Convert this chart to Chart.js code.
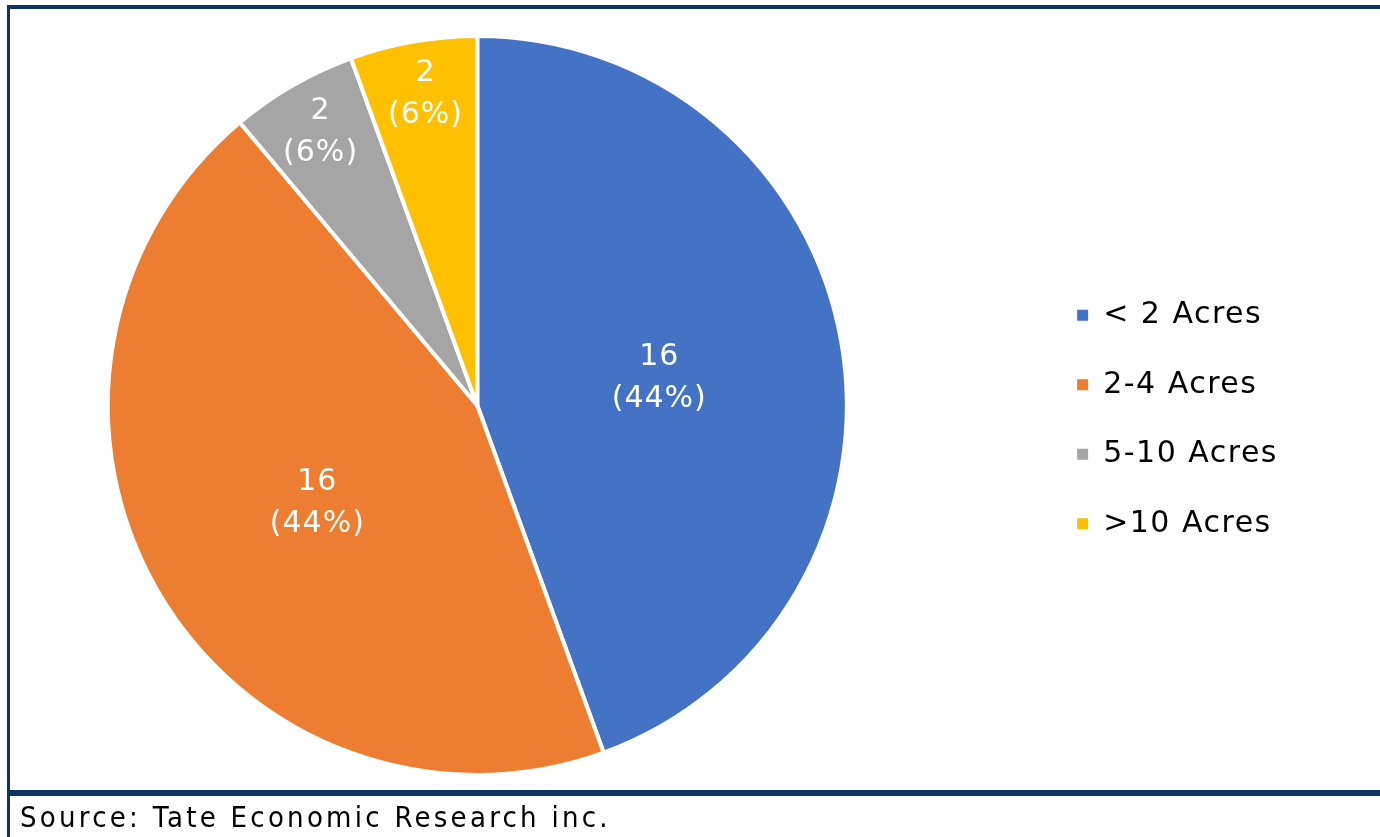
<!DOCTYPE html>
<html>
<head>
<meta charset="utf-8">
<script src="https://cdn.jsdelivr.net/npm/chart.js@4.4.1/dist/chart.umd.min.js"></script>
<style>
  html, body { margin: 0; padding: 0; background: #fff; overflow: hidden; }
  body { width: 1380px; height: 837px; position: relative; }
  #wrap { position: absolute; left: -83px; top: 0; width: 1472px; height: 837px; }
  .frame { position: absolute; background: #0b3462; z-index: 2; }
  #source {
    position: absolute; left: 20px; top: 797px; line-height: 40px; letter-spacing: 3.25px;
    font-family: "DejaVu Sans Condensed", "DejaVu Sans", sans-serif; font-size: 29px; color: #000;
  }
</style>
</head>
<body>
<div id="wrap"><canvas id="myChart" width="1472" height="837"></canvas></div>
<div class="frame" style="left:7px; top:5px; width:1373px; height:4px;"></div>
<div class="frame" style="left:7px; top:5px; width:3px; height:832px;"></div>
<div class="frame" style="left:7px; top:790px; width:1373px; height:6px;"></div>
<div id="source">Source: Tate Economic Research inc.</div>
<script>
// chart data
const categories = ["< 2 Acres", "2-4 Acres", "5-10 Acres", ">10 Acres"];
const counts = [16, 16, 2, 2];
const sliceColors = ["#4472C4", "#ED7D31", "#A5A5A5", "#FFC000"];

const total = counts.reduce((a, b) => a + b, 0);

// a bit of tracking like the original's text
const spacing = {
  id: "spacing",
  beforeLayout(chart) { chart.ctx.letterSpacing = "1.5px"; },
  beforeDraw(chart) { chart.ctx.letterSpacing = "1.5px"; }
};

// value + percent labels on each slice
const sliceLabels = {
  id: "sliceLabels",
  afterDatasetsDraw(chart) {
    const ctx = chart.ctx;
    const meta = chart.getDatasetMeta(0);
    ctx.save();
    ctx.letterSpacing = "1px";
    ctx.fillStyle = "#fff";
    ctx.font = '30px "DejaVu Sans", sans-serif';
    ctx.textAlign = "center";
    ctx.textBaseline = "middle";
    meta.data.forEach(function(arc, i) {
      const p = arc.getProps(["x", "y", "startAngle", "endAngle", "outerRadius"], true);
      const mid = (p.startAngle + p.endAngle) / 2;
      const share = counts[i] / total;
      const r = p.outerRadius * (share < 0.1 ? 0.87 : 0.5);
      const cx = p.x + Math.cos(mid) * r + (share < 0.1 ? 4 : 0);
      const cy = p.y + Math.sin(mid) * r;
      ctx.fillText(String(counts[i]), cx, cy - 16);
      ctx.fillText("(" + Math.round(share * 100) + "%)", cx, cy + 26);
    });
    ctx.restore();
  }
};

new Chart("myChart", {
  type: "pie",
  data: {
    labels: categories,
    datasets: [{
      data: counts,
      backgroundColor: sliceColors,
      borderColor: "#fff",
      borderWidth: 4
    }]
  },
  options: {
    responsive: false,
    animation: false,
    layout: { padding: { left: 0, top: 34, bottom: 60, right: 101 } },
    plugins: {
      legend: {
        position: "right",
        title: { display: true, text: "", font: { size: 10 }, padding: 8 },
        labels: {
          boxWidth: 11,
          boxHeight: 11,
          padding: 39.5,
          color: "#000",
          font: { family: '"DejaVu Sans", sans-serif', size: 30 },
          generateLabels(chart) {
            const items = Chart.overrides.pie.plugins.legend.labels.generateLabels(chart);
            return items.map(function(it) { it.lineWidth = 0; it.strokeStyle = it.fillStyle; return it; });
          }
        }
      },
      tooltip: { enabled: false }
    }
  },
  plugins: [spacing, sliceLabels]
});
</script>
</body>
</html>
